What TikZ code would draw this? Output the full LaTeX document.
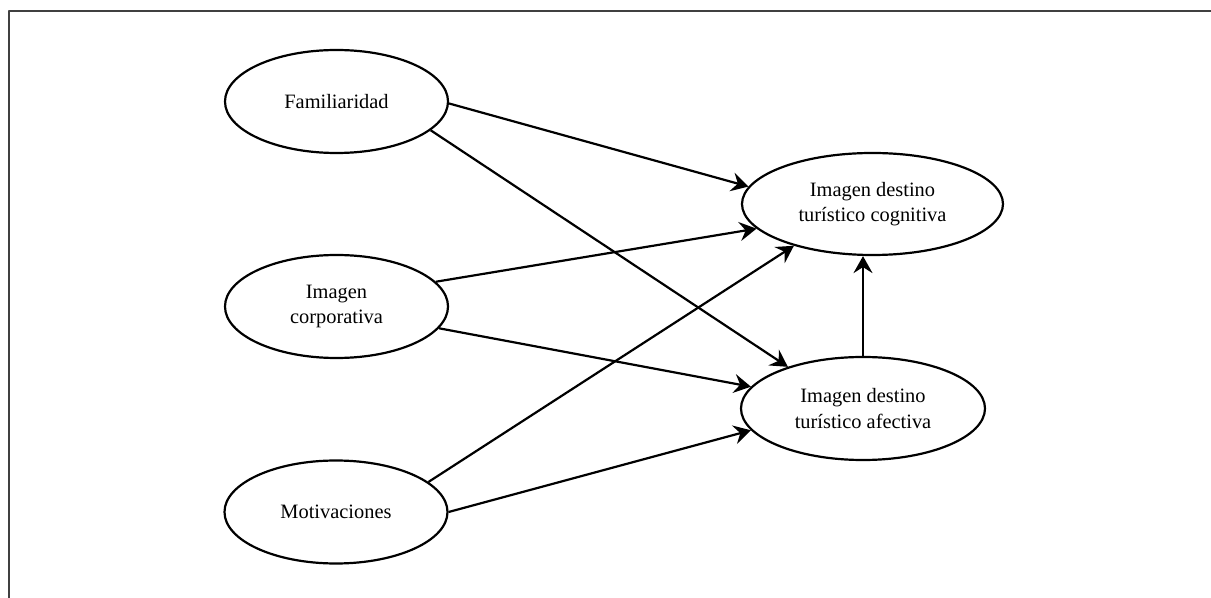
\documentclass[tikz,border=0pt]{standalone}
\usepackage{fontspec}
\setmainfont{Liberation Serif}
\usetikzlibrary{shapes.geometric,arrows.meta}
\begin{document}
\begin{tikzpicture}[x=0.5pt,y=-0.5pt,line join=round,>={Stealth[length=8.5pt,width=9.5pt,inset=3pt]},
	font=\fontsize{10.2}{12.8}\selectfont,
	bien/.style={draw,ellipse,line width=1.1pt,inner sep=0pt,align=center,minimum width=111.5pt,minimum height=51.5pt},
	flecha/.style={->,line width=1.1pt}]
	\useasboundingbox (0,0) rectangle (1211,598);
	\draw[line width=0.75pt,black!75] (9,598) -- (9,11) -- (1211,11);
	% variables
	\node[bien] (fam) at (336.5,101.5) {Familiaridad};
	\node[bien] (corp) at (336.5,306.5) {Imagen\\corporativa};
	\node[bien] (mot) at (336,512) {Motivaciones};
	\node[bien,minimum width=130.5pt,minimum height=51pt] (cog) at (872.5,204) {Imagen destino\\tur\'istico cognitiva};
	\node[bien,minimum width=122pt] (afe) at (863,408.5) {Imagen destino\\tur\'istico afectiva};
	% relaciones
	\draw[flecha] (fam.-1) -- (cog.172);
	\draw[flecha] (fam.-17) -- (afe.151);
	\draw[flecha] (corp.14) -- (cog.192);
	\draw[flecha] (corp.-12) -- (afe.169);
	\draw[flecha] (mot.18) -- (cog.208);
	\draw[flecha] (mot.east) -- (afe.191);
	\draw[flecha] (afe.north) -- (afe.north |- cog.south);
\end{tikzpicture}
\end{document}
